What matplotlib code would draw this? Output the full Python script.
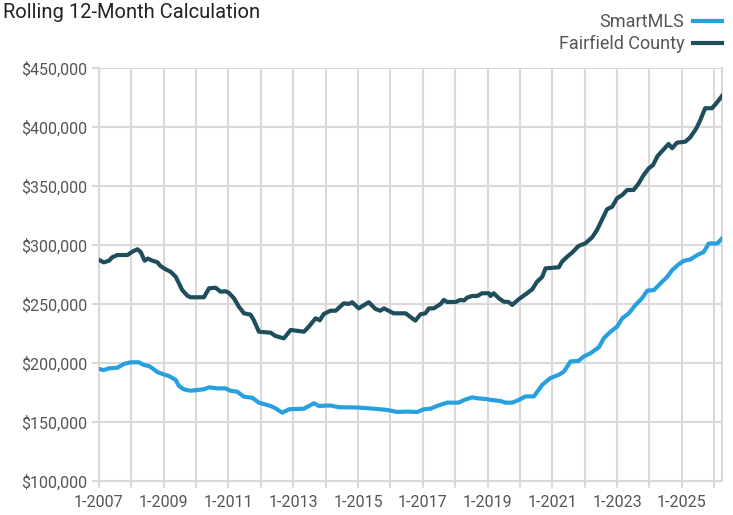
import matplotlib
matplotlib.use("Agg")
import matplotlib.pyplot as plt
from matplotlib import font_manager
from matplotlib.ticker import FuncFormatter, FixedLocator

# decimal year, value in $1000s
fair_x = [2007.00, 2007.15, 2007.31, 2007.41, 2007.57, 2007.88, 2008.03, 2008.19,
          2008.29, 2008.41, 2008.51, 2008.65, 2008.80, 2008.90, 2009.06, 2009.21,
          2009.37, 2009.47, 2009.57, 2009.73, 2009.83, 2010.24, 2010.40, 2010.60,
          2010.76, 2010.91, 2011.01, 2011.17, 2011.32, 2011.48, 2011.68, 2011.78,
          2011.94, 2012.30, 2012.45, 2012.71, 2012.92, 2013.33, 2013.48, 2013.69,
          2013.82, 2013.94, 2014.15, 2014.31, 2014.56, 2014.72, 2014.82, 2015.02,
          2015.33, 2015.54, 2015.69, 2015.80, 2016.10, 2016.47, 2016.77, 2016.93,
          2017.08, 2017.19, 2017.34, 2017.55, 2017.65, 2017.75, 2018.01, 2018.16,
          2018.27, 2018.37, 2018.52, 2018.68, 2018.83, 2019.04, 2019.09, 2019.19,
          2019.35, 2019.50, 2019.65, 2019.76, 2019.96, 2020.22, 2020.38, 2020.53,
          2020.69, 2020.79, 2021.20, 2021.30, 2021.46, 2021.61, 2021.81, 2022.02,
          2022.23, 2022.38, 2022.54, 2022.69, 2022.85, 2023.00, 2023.16, 2023.31,
          2023.51, 2023.67, 2023.82, 2023.98, 2024.11, 2024.25, 2024.42, 2024.59,
          2024.70, 2024.85, 2025.11, 2025.26, 2025.45, 2025.57, 2025.72, 2025.93,
          2026.08, 2026.24]
fair_y = [287.3, 285.3, 286.7, 289.6, 291.5, 291.5, 294.3, 296.4,
          294.0, 286.7, 288.5, 286.7, 285.5, 282.2, 279.4, 277.4,
          273.1, 267.5, 261.9, 257.0, 255.7, 255.7, 263.3, 263.8,
          260.4, 260.8, 259.5, 254.8, 247.7, 242.1, 241.0, 236.4,
          226.5, 225.7, 222.9, 220.9, 228.0, 226.5, 230.8, 237.9,
          236.2, 241.5, 244.3, 244.3, 250.6, 250.0, 251.5, 246.3,
          251.5, 245.8, 244.3, 246.3, 242.1, 242.1, 235.9, 241.3,
          242.1, 246.3, 246.3, 250.0, 253.4, 251.7, 251.7, 253.4,
          253.0, 255.4, 256.8, 256.8, 259.1, 259.1, 256.8, 259.1,
          254.8, 252.0, 251.7, 249.2, 254.0, 259.1, 262.5, 268.9,
          273.1, 280.2, 281.1, 285.9, 290.1, 293.5, 299.2, 301.4,
          306.5, 312.7, 321.8, 330.3, 332.5, 339.6, 342.4, 346.6,
          346.6, 352.3, 359.3, 365.0, 367.8, 375.4, 380.5, 385.6,
          382.0, 386.7, 387.6, 391.3, 398.9, 405.9, 415.9, 415.9,
          420.6, 426.3]

smart_x = [2007.00, 2007.15, 2007.31, 2007.57, 2007.77, 2007.98, 2008.23, 2008.39,
           2008.54, 2008.65, 2008.80, 2008.96, 2009.16, 2009.37, 2009.47, 2009.62,
           2009.83, 2010.24, 2010.40, 2010.65, 2010.91, 2011.06, 2011.27, 2011.48,
           2011.73, 2011.94, 2012.30, 2012.45, 2012.66, 2012.87, 2013.33, 2013.64,
           2013.79, 2014.15, 2014.41, 2014.98, 2015.49, 2015.90, 2016.21, 2016.52,
           2016.83, 2017.03, 2017.24, 2017.44, 2017.75, 2018.11, 2018.27, 2018.52,
           2018.68, 2018.94, 2019.14, 2019.40, 2019.55, 2019.76, 2019.96, 2020.17,
           2020.43, 2020.69, 2020.94, 2021.20, 2021.36, 2021.56, 2021.81, 2021.97,
           2022.18, 2022.44, 2022.59, 2022.80, 2023.00, 2023.16, 2023.36, 2023.57,
           2023.77, 2023.93, 2024.14, 2024.34, 2024.55, 2024.70, 2024.91, 2025.06,
           2025.26, 2025.47, 2025.68, 2025.83, 2026.09, 2026.24]
smart_y = [194.9, 194.0, 195.5, 196.0, 199.2, 200.6, 200.6, 198.3,
           197.5, 195.5, 192.4, 190.7, 189.0, 185.6, 180.5, 177.7,
           176.5, 177.7, 179.4, 178.5, 178.5, 176.5, 175.7, 171.4,
           170.6, 166.4, 163.6, 161.6, 157.9, 160.8, 161.3, 165.9,
           163.6, 164.0, 162.5, 162.3, 161.3, 160.2, 158.5, 158.8,
           158.5, 160.8, 161.3, 163.6, 166.4, 166.4, 168.6, 170.9,
           170.1, 169.5, 168.6, 167.8, 166.4, 166.4, 168.6, 171.7,
           171.7, 181.5, 187.2, 190.0, 192.8, 201.3, 201.8, 205.5,
           208.3, 213.4, 221.0, 226.6, 230.8, 237.9, 242.1, 249.2,
           254.8, 261.3, 261.8, 267.5, 273.1, 278.7, 283.8, 286.6,
           287.7, 291.4, 294.2, 301.3, 301.3, 305.5]

years = list(range(2007, 2027))
y_ticks = [100, 150, 200, 250, 300, 350, 400, 450]

SMART = "#27a0e0"
FAIR = "#1e4d5c"
GRID = "#d9d9d9"
TXT = "#555555"

avail = {f.name for f in font_manager.fontManager.ttflist}
fam = "Liberation Sans Narrow" if "Liberation Sans Narrow" in avail else "Roboto"
plt.rcParams["font.family"] = [fam, "DejaVu Sans"]

fig = plt.figure(figsize=(7.33, 5.15), dpi=100)
ax = fig.add_axes([0.135, 0.066, 0.85, 0.802])

ax.plot(smart_x, smart_y, color=SMART, lw=3, label="SmartMLS", zorder=3)
ax.plot(fair_x, fair_y, color=FAIR, lw=3, label="Fairfield County", zorder=3)

ax.set_xlim(2007, 2026.24)
ax.set_ylim(100, 450)
ax.xaxis.set_major_locator(FixedLocator(years))
ax.xaxis.set_major_formatter(FuncFormatter(
    lambda v, p: f"1-{int(round(v))}" if int(round(v)) % 2 == 1 else ""))
ax.set_yticks(y_ticks)
ax.yaxis.set_major_formatter(FuncFormatter(lambda v, p: f"${int(v * 1000):,}"))

ax.grid(True, color=GRID, lw=1.5, zorder=0)
for s in ax.spines.values():
    s.set_color(GRID)
    s.set_linewidth(1.5)
ax.spines["top"].set_visible(False)
ax.tick_params(colors=GRID, length=5, width=1.5, labelcolor=TXT, labelsize=11.5)
ax.tick_params(axis="x", pad=5)

fig.text(0.004, 0.975, "Rolling 12-Month Calculation", fontsize=14.5,
         color="#222222", va="center", ha="left")

leg = ax.legend(loc="upper right", bbox_to_anchor=(1.0, 0.995),
                bbox_transform=fig.transFigure, frameon=False, markerfirst=False,
                fontsize=13, handlelength=1.6, labelspacing=0.2,
                borderaxespad=0.2, handletextpad=0.5)
for t in leg.get_texts():
    t.set_color(TXT)

fig.savefig("out.png", dpi=100)
